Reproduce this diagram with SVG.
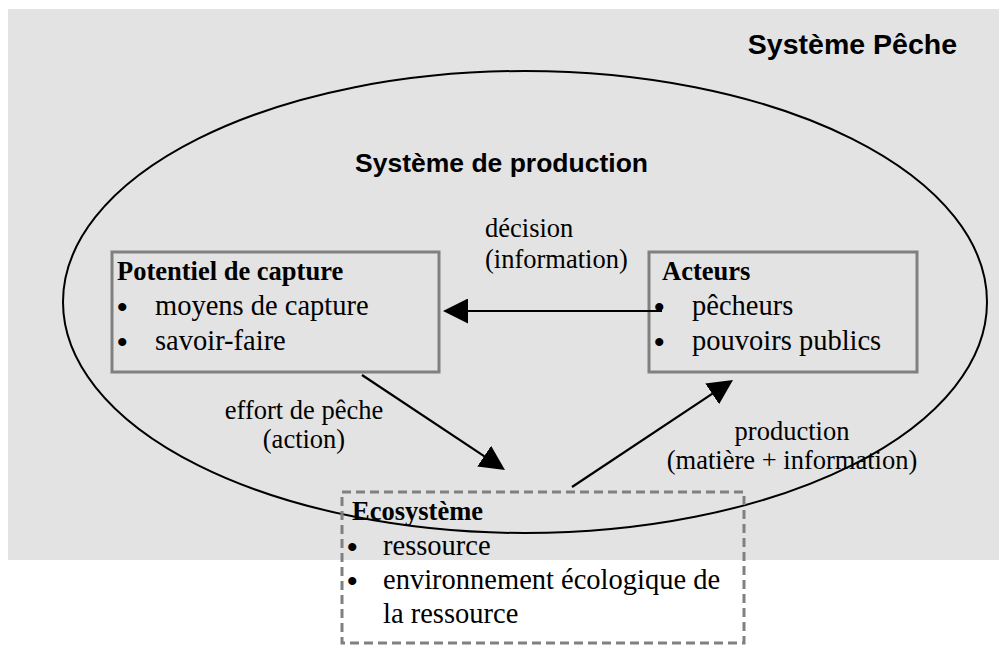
<svg xmlns="http://www.w3.org/2000/svg" width="999" height="646" viewBox="0 0 999 646">
<style>
.sans{font-family:"Liberation Sans",Arial,sans-serif;font-weight:bold;font-size:26.5px;fill:#000}
.title{font-family:"Liberation Sans",Arial,sans-serif;font-weight:bold;font-size:28.5px;fill:#000}
.serif{font-family:"Liberation Serif","Times New Roman",serif;font-size:28.5px;fill:#000}
.bul{font-size:30px;font-weight:bold}
.hd{font-weight:bold;font-size:26.5px}
.lbl{font-family:"Liberation Serif","Times New Roman",serif;font-size:26.5px;fill:#000}
.box{fill:none;stroke:#808080;stroke-width:3}
.dash{fill:none;stroke:#808080;stroke-width:3;stroke-dasharray:9 5}
.arrow{stroke:#000;stroke-width:2.2;fill:none;marker-end:url(#ah)}
</style>
<defs>
<marker id="ah" markerUnits="userSpaceOnUse" markerWidth="25" markerHeight="25" viewBox="0 0 25 25" refX="13" refY="12.5" orient="auto">
<path d="M0,0 L25,12.5 L0,25 z" fill="#000"/>
</marker>
</defs>
<rect x="8" y="9" width="991" height="551" fill="#e3e3e3"/>
<g id="systeme-peche">
<text class="title" x="957" y="54" text-anchor="end">Système Pêche</text>
</g>
<g id="systeme-production">
<ellipse cx="525" cy="302" rx="462" ry="231" fill="none" stroke="#000" stroke-width="2"/>
<text class="sans" x="355" y="172">Système de production</text>
</g>
<g id="potentiel">
<rect class="box" x="112" y="252" width="327" height="120"/>
<text class="serif" x="117" y="280"><tspan class="hd">Potentiel de capture</tspan><tspan class="bul" x="117" y="317">•</tspan><tspan x="155" y="315">moyens de capture</tspan><tspan class="bul" x="117" y="352">•</tspan><tspan x="155" y="350">savoir-faire</tspan></text>
</g>
<g id="acteurs">
<rect class="box" x="649" y="252" width="268" height="120"/>
<text class="serif" x="662" y="280"><tspan class="hd">Acteurs</tspan><tspan class="bul" x="654" y="317">•</tspan><tspan x="692" y="315">pêcheurs</tspan><tspan class="bul" x="654" y="352">•</tspan><tspan x="692" y="350">pouvoirs publics</tspan></text>
</g>
<g id="ecosysteme">
<rect class="dash" x="342" y="492" width="402" height="151"/>
<text class="serif" x="352" y="520"><tspan class="hd">Ecosystème</tspan><tspan class="bul" x="347" y="557">•</tspan><tspan x="383" y="555">ressource</tspan><tspan class="bul" x="347" y="591">•</tspan><tspan x="383" y="589">environnement écologique de</tspan><tspan x="383" y="623">la ressource</tspan></text>
</g>
<g id="connectors">
<line class="arrow" x1="662" y1="311" x2="455" y2="311"/>
<line class="arrow" x1="362" y1="375" x2="495" y2="463.4"/>
<line class="arrow" x1="572" y1="487" x2="723" y2="386.6"/>
<text class="lbl" x="485" y="237">décision</text>
<text class="lbl" x="485" y="268">(information)</text>
<text class="lbl" x="304" y="419" text-anchor="middle">effort de pêche</text>
<text class="lbl" x="304" y="448" text-anchor="middle">(action)</text>
<text class="lbl" x="792" y="440" text-anchor="middle">production</text>
<text class="lbl" x="792" y="469" text-anchor="middle">(matière + information)</text>
</g>
</svg>
